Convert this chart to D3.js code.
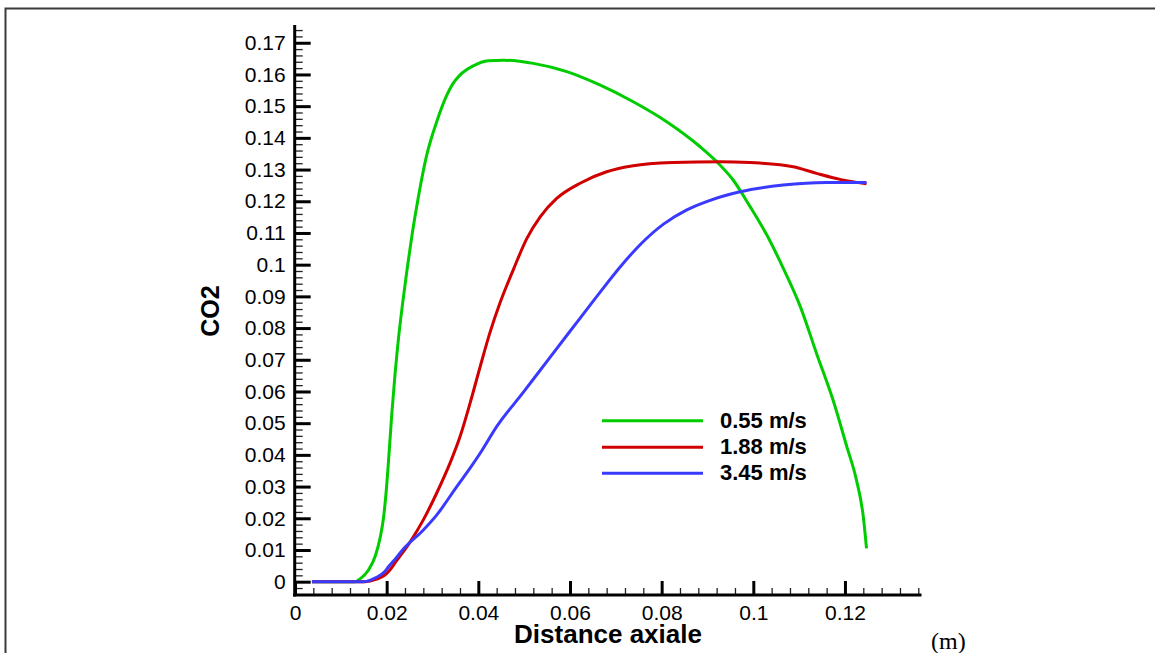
<!DOCTYPE html>
<html>
<head>
<meta charset="utf-8">
<script src="https://cdn.jsdelivr.net/npm/d3@7"></script>
<style>
  html, body { margin: 0; padding: 0; background: #fff; }
  svg { display: block; }
</style>
</head>
<body>
<svg id="chart" width="1155" height="653"></svg>
<script>
// Axial CO2 profiles for three inlet velocities
const seriesNames = ["0.55 m/s", "1.88 m/s", "3.45 m/s"];
const seriesColors = ["#00cc00", "#d00000", "#3a3aff"];

const x055 = [0.0037, 0.0131, 0.0142, 0.0160, 0.0175, 0.0186, 0.0193, 0.0199, 0.0205, 0.0211, 0.0218, 0.0226, 0.0235, 0.0245, 0.0256, 0.0269, 0.0287, 0.0309, 0.0331, 0.0345, 0.0360, 0.0389, 0.0422, 0.0455, 0.0520, 0.0593, 0.0665, 0.0738, 0.0811, 0.0884, 0.0920, 0.0956, 0.0993, 0.1029, 0.1065, 0.1102, 0.1138, 0.1174, 0.1204, 0.1225, 0.1240, 0.1247];
const y055 = [0, 0, 0.0009, 0.0036, 0.0080, 0.0140, 0.0200, 0.0285, 0.0400, 0.0525, 0.0650, 0.0770, 0.0880, 0.0990, 0.1100, 0.1212, 0.1343, 0.1450, 0.1534, 0.1572, 0.1598, 0.1627, 0.1643, 0.1645, 0.1635, 0.1609, 0.1567, 0.1514, 0.1451, 0.1372, 0.1325, 0.1267, 0.1183, 0.1095, 0.0990, 0.0870, 0.0720, 0.0573, 0.0426, 0.0321, 0.0205, 0.0105];

const x188 = [0.0037, 0.0153, 0.0178, 0.0196, 0.0207, 0.0220, 0.0251, 0.0280, 0.0309, 0.0338, 0.0360, 0.0382, 0.0404, 0.0425, 0.0447, 0.0476, 0.0506, 0.0535, 0.0571, 0.0622, 0.0680, 0.0738, 0.0825, 0.0927, 0.0993, 0.1087, 0.1138, 0.1189, 0.1247];
const y188 = [0, 0, 0.0008, 0.0021, 0.0037, 0.0063, 0.0125, 0.0195, 0.0279, 0.0373, 0.0457, 0.0563, 0.0678, 0.0784, 0.0878, 0.0983, 0.1083, 0.1151, 0.1209, 0.1257, 0.1293, 0.1312, 0.1322, 0.1325, 0.1322, 0.1309, 0.1288, 0.1269, 0.1255];

const x345 = [0.0037, 0.0149, 0.0178, 0.0196, 0.0204, 0.0218, 0.0236, 0.0280, 0.0309, 0.0353, 0.0382, 0.0404, 0.0440, 0.0498, 0.0556, 0.0615, 0.0665, 0.0709, 0.0753, 0.0804, 0.0855, 0.0898, 0.0971, 0.1065, 0.1160, 0.1247];
const y345 = [0, 0, 0.0014, 0.0032, 0.0047, 0.0070, 0.0102, 0.0163, 0.0210, 0.0300, 0.0358, 0.0405, 0.0489, 0.0597, 0.0707, 0.0818, 0.0912, 0.0992, 0.1063, 0.1128, 0.1173, 0.1199, 0.1230, 0.1251, 0.1259, 0.1259];

const xTickValues = [0, 0.02, 0.04, 0.06, 0.08, 0.1, 0.12];
const xTickLabels = ["0", "0.02", "0.04", "0.06", "0.08", "0.1", "0.12"];
const yTickValues = [0, 0.01, 0.02, 0.03, 0.04, 0.05, 0.06, 0.07, 0.08, 0.09, 0.1, 0.11, 0.12, 0.13, 0.14, 0.15, 0.16, 0.17];
const yTickLabels = ["0", "0.01", "0.02", "0.03", "0.04", "0.05", "0.06", "0.07", "0.08", "0.09", "0.1", "0.11", "0.12", "0.13", "0.14", "0.15", "0.16", "0.17"];

const xTitle = "Distance axiale";
const xUnit = "(m)";
const yTitle = "CO2";

const series = [
  { name: seriesNames[0], color: seriesColors[0], pts: x055.map((v, i) => [v, y055[i]]) },
  { name: seriesNames[1], color: seriesColors[1], pts: x188.map((v, i) => [v, y188[i]]) },
  { name: seriesNames[2], color: seriesColors[2], pts: x345.map((v, i) => [v, y345[i]]) }
];

const svg = d3.select("#chart");
const FONT = "'Liberation Sans', Arial, sans-serif";

// outer frame
svg.append("rect")
  .attr("x", 5.5).attr("y", 8.5)
  .attr("width", 1200).attr("height", 700)
  .attr("fill", "none").attr("stroke", "#3a3a3a").attr("stroke-width", 2);

const x = d3.scaleLinear().domain([0, 0.1367]).range([295, 921.5]);
const y = d3.scaleLinear().domain([-0.0042, 0.1756]).range([595, 25]);

const axisY = 294.7, axisX = 595;

// minor ticks
const xMinor = d3.range(0, 0.1361, 0.004).filter(v => Math.abs(v / 0.02 - Math.round(v / 0.02)) > 1e-6);
const yMinor = d3.range(-0.004, 0.1757, 0.002).filter(v => Math.abs(v / 0.01 - Math.round(v / 0.01)) > 1e-6);

svg.append("g")
  .attr("transform", `translate(0,${axisX})`)
  .call(d3.axisBottom(x).tickValues(xMinor).tickSize(-7).tickFormat(""))
  .call(g => g.select(".domain").remove())
  .call(g => g.selectAll(".tick line").attr("stroke", "#222").attr("stroke-width", 1.3));

svg.append("g")
  .attr("transform", `translate(${axisY},0)`)
  .call(d3.axisLeft(y).tickValues(yMinor).tickSize(-8).tickFormat(""))
  .call(g => g.select(".domain").remove())
  .call(g => g.selectAll(".tick line").attr("stroke", "#222").attr("stroke-width", 1.3));

// major axes
svg.append("g")
  .attr("transform", `translate(0,${axisX})`)
  .call(d3.axisBottom(x).tickValues(xTickValues).tickFormat((d, i) => xTickLabels[i])
    .tickSize(-14).tickSizeOuter(0).tickPadding(10))
  .call(g => g.select(".domain").attr("stroke", "#000").attr("stroke-width", 3)
    .attr("d", `M${axisY - 1.5},0H${x.range()[1]}`))
  .call(g => g.selectAll(".tick line").attr("stroke", "#000").attr("stroke-width", 3))
  .call(g => g.selectAll(".tick text").attr("font-family", FONT).attr("font-size", 21).attr("fill", "#000"));

svg.append("g")
  .attr("transform", `translate(${axisY},0)`)
  .call(d3.axisLeft(y).tickValues(yTickValues).tickFormat((d, i) => yTickLabels[i])
    .tickSize(-16).tickSizeOuter(0).tickPadding(9))
  .call(g => g.select(".domain").attr("stroke", "#000").attr("stroke-width", 3)
    .attr("d", `M0,${y.range()[1]}V${axisX + 1.5}`))
  .call(g => g.selectAll(".tick line").attr("stroke", "#000").attr("stroke-width", 3))
  .call(g => g.selectAll(".tick text").attr("font-family", FONT).attr("font-size", 21).attr("fill", "#000"));

// curves
const line = d3.line().x(d => x(d[0])).y(d => y(d[1])).curve(d3.curveMonotoneX);
svg.append("g").selectAll("path")
  .data(series)
  .join("path")
  .attr("d", d => line(d.pts))
  .attr("fill", "none")
  .attr("stroke", d => d.color)
  .attr("stroke-width", 3)
  .attr("stroke-linejoin", "round");

// legend
const legend = svg.append("g");
const legRows = [420.7, 447.3, 473.3];
series.forEach((s, i) => {
  legend.append("line")
    .attr("x1", 602).attr("x2", 703)
    .attr("y1", legRows[i]).attr("y2", legRows[i])
    .attr("stroke", s.color).attr("stroke-width", 3);
  legend.append("text")
    .attr("x", 720).attr("y", legRows[i] + 7)
    .attr("font-family", FONT).attr("font-weight", "bold").attr("font-size", 22)
    .attr("fill", "#000")
    .text(s.name);
});

// titles
svg.append("text")
  .attr("x", 608).attr("y", 643)
  .attr("text-anchor", "middle")
  .attr("font-family", FONT).attr("font-weight", "bold").attr("font-size", 26)
  .text(xTitle);

svg.append("text")
  .attr("x", 931).attr("y", 649)
  .attr("font-family", "'Liberation Serif', 'Times New Roman', serif").attr("font-size", 24)
  .text(xUnit);

svg.append("text")
  .attr("transform", "translate(219,311) rotate(-90)")
  .attr("text-anchor", "middle")
  .attr("font-family", FONT).attr("font-weight", "bold").attr("font-size", 25)
  .text(yTitle);
</script>
</body>
</html>
